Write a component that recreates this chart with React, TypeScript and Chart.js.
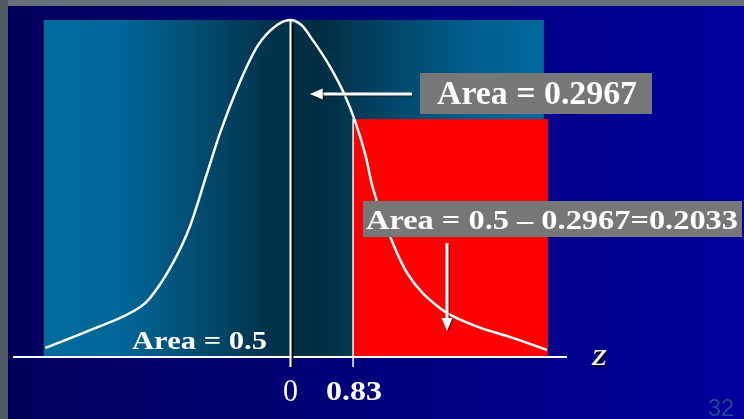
import React, { useEffect, useRef } from "react";
import { Chart, registerables } from "chart.js";

Chart.register(...registerables);

// Normal curve (z, relative height)
const curveZ = [-3.22, -2.63, -1.97, -1.84, -1.54, -1.32, -1.09, -0.92, -0.66, -0.42, -0.2, 0, 0.15, 0.3, 0.53, 0.72, 0.855, 0.99, 1.09, 1.32, 1.54, 1.97, 2.41, 2.93, 3.38];
const curveH = [0.024, 0.077, 0.146, 0.173, 0.277, 0.384, 0.545, 0.664, 0.815, 0.925, 0.98, 1.0, 0.985, 0.94, 0.86, 0.777, 0.7, 0.6, 0.5, 0.354, 0.247, 0.143, 0.092, 0.054, 0.018];

const zCut = 0.83;
const tickValues = [0, 0.83];
const tickLabels = ["0", "0.83"];
const panelRange = [-3.24, 3.34];
const panelTop = 1.0;
const tailRange = [0.83, 3.395];
const tailTop = 0.705;
const axisRange = [-3.645, 3.645];

const midAreaLabel = "Area = 0.2967";
const tailAreaLabel = "Area = 0.5 \u2013 0.2967=0.2033";
const halfAreaLabel = "Area = 0.5";
const axisLabel = "z";
const pageLabel = "32";

function fitText(
  ctx: CanvasRenderingContext2D,
  text: string,
  left: number,
  baseline: number,
  font: string,
  width: number,
  color: string
) {
  ctx.save();
  ctx.font = font;
  const w = ctx.measureText(text).width;
  ctx.translate(left, baseline);
  ctx.scale(width / w, 1);
  ctx.fillStyle = color;
  ctx.textAlign = "left";
  ctx.textBaseline = "alphabetic";
  ctx.fillText(text, 0, 0);
  ctx.restore();
}

function arrow(ctx: CanvasRenderingContext2D, x1: number, y1: number, x2: number, y2: number) {
  const ang = Math.atan2(y2 - y1, x2 - x1);
  const head = 13;
  const half = 5.5;
  ctx.save();
  ctx.shadowColor = "rgba(0,0,0,0.6)";
  ctx.shadowOffsetX = 1;
  ctx.shadowOffsetY = 1;
  ctx.strokeStyle = "#ffffff";
  ctx.fillStyle = "#ffffff";
  ctx.lineWidth = 3;
  const bx = x2 - Math.cos(ang) * head;
  const by = y2 - Math.sin(ang) * head;
  ctx.beginPath();
  ctx.moveTo(x1, y1);
  ctx.lineTo(bx, by);
  ctx.stroke();
  ctx.beginPath();
  ctx.moveTo(x2, y2);
  ctx.lineTo(bx - Math.sin(ang) * half, by + Math.cos(ang) * half);
  ctx.lineTo(bx + Math.sin(ang) * half, by - Math.cos(ang) * half);
  ctx.closePath();
  ctx.fill();
  ctx.restore();
}

const slidePlugin = {
  id: "slide",
  beforeDraw(chart: any) {
    const { ctx, width, height } = chart;
    const xs = chart.scales.x;
    const ys = chart.scales.y;
    ctx.save();
    const bg = ctx.createLinearGradient(0, 0, width, 0);
    bg.addColorStop(0, "#00005a");
    bg.addColorStop(1, "#00009c");
    ctx.fillStyle = bg;
    ctx.fillRect(0, 0, width, height);
    ctx.fillStyle = "#66717a";
    ctx.fillRect(0, 0, width, 6);
    ctx.fillStyle = "#4e5961";
    ctx.fillRect(0, 0, 8, height);

    const x0 = xs.getPixelForValue(panelRange[0]);
    const x1 = xs.getPixelForValue(panelRange[1]);
    const yT = ys.getPixelForValue(panelTop);
    const yB = ys.getPixelForValue(0);
    const tg = ctx.createLinearGradient(x0, 0, x1, 0);
    tg.addColorStop(0, "#006c9c");
    tg.addColorStop(0.15, "#006798");
    tg.addColorStop(0.3, "#004e72");
    tg.addColorStop(0.44, "#00344d");
    tg.addColorStop(0.55, "#002d40");
    tg.addColorStop(0.7, "#00476a");
    tg.addColorStop(0.85, "#005e8c");
    tg.addColorStop(1, "#006a9c");
    ctx.fillStyle = tg;
    ctx.fillRect(x0, yT, x1 - x0, yB - yT);

    const r0 = xs.getPixelForValue(tailRange[0]);
    const r1 = xs.getPixelForValue(tailRange[1]);
    const rT = ys.getPixelForValue(tailTop);
    ctx.fillStyle = "#ff0000";
    ctx.fillRect(r0, rT, r1 - r0, yB - rT);
    ctx.restore();
  },
  afterDatasetsDraw(chart: any) {
    const { ctx } = chart;
    const xs = chart.scales.x;
    const ys = chart.scales.y;
    const y0 = ys.getPixelForValue(0);
    const tickBottom = ys.getPixelForValue(-0.033);
    ctx.save();

    // axis
    ctx.strokeStyle = "#ffffff";
    ctx.lineWidth = 2;
    ctx.beginPath();
    ctx.moveTo(xs.getPixelForValue(axisRange[0]), y0 + 1);
    ctx.lineTo(xs.getPixelForValue(axisRange[1]), y0 + 1);
    ctx.stroke();

    // mean line
    const xm = Math.round(xs.getPixelForValue(tickValues[0]));
    ctx.strokeStyle = "#000000";
    ctx.lineWidth = 2;
    ctx.beginPath();
    ctx.moveTo(xm + 2.5, ys.getPixelForValue(panelTop) + 4);
    ctx.lineTo(xm + 2.5, tickBottom);
    ctx.stroke();
    ctx.strokeStyle = "#ffffff";
    ctx.beginPath();
    ctx.moveTo(xm + 0.5, ys.getPixelForValue(panelTop));
    ctx.lineTo(xm + 0.5, tickBottom);
    ctx.stroke();

    // cut line
    const xc = xs.getPixelForValue(zCut);
    ctx.lineWidth = 1.5;
    ctx.beginPath();
    ctx.moveTo(xc, ys.getPixelForValue(tailTop));
    ctx.lineTo(xc, tickBottom);
    ctx.stroke();

    // tick labels
    fitText(ctx, tickLabels[0], xm - 7, 401, "32px 'Liberation Serif'", 15, "#ffffff");
    fitText(ctx, tickLabels[1], 326, 400, "bold 27px 'Liberation Serif'", 56, "#ffffff");

    // axis label
    ctx.save();
    ctx.shadowColor = "rgba(0,0,0,0.8)";
    ctx.shadowOffsetX = 1.5;
    ctx.shadowOffsetY = 1.5;
    fitText(ctx, axisLabel, 592, 365, "italic 32px 'Liberation Serif'", 15, "#ffffff");
    ctx.restore();

    // half area label
    fitText(ctx, halfAreaLabel, 132, 349, "bold 26px 'Liberation Serif'", 135, "#ffffff");

    // mid area box + arrow
    ctx.fillStyle = "#777777";
    ctx.fillRect(420, 73, 232, 41);
    fitText(ctx, midAreaLabel, 437, 104, "bold 33px 'Liberation Serif'", 200, "#ffffff");
    arrow(ctx, 412, 94, xs.getPixelForValue(0.26), 94);

    // tail area box + arrow
    ctx.fillStyle = "#777777";
    ctx.fillRect(363, 201, 379, 36);
    fitText(ctx, tailAreaLabel, 366, 229, "bold 28px 'Liberation Serif'", 372, "#ffffff");
    arrow(ctx, 447, 243, 447, 331);

    // page number
    fitText(ctx, pageLabel, 708, 416, "24px 'Liberation Sans'", 26, "#1d4a8c");

    ctx.restore();
  },
};

export default function App() {
  const ref = useRef<HTMLCanvasElement | null>(null);
  useEffect(() => {
    if (!ref.current) return;
    const chart = new Chart(ref.current, {
      type: "line",
      data: {
        datasets: [
          {
            data: curveZ.map((z, i) => ({ x: z, y: curveH[i] })),
            borderColor: "#ffffff",
            borderWidth: 2.5,
            pointRadius: 0,
            fill: false,
            cubicInterpolationMode: "monotone",
          },
        ],
      },
      options: {
        animation: false,
        responsive: true,
        maintainAspectRatio: false,
        events: [],
        layout: { padding: { left: 1.2, right: 28.4, top: 0, bottom: 0 } },
        plugins: { legend: { display: false }, tooltip: { enabled: false } },
        scales: {
          x: { type: "linear", min: -3.8, max: 5.6, display: false },
          y: { type: "linear", min: -0.1875, max: 1.0595, display: false },
        },
      },
      plugins: [slidePlugin],
    });
    return () => chart.destroy();
  }, []);
  return (
    <div style={{ position: "fixed", left: 0, top: 0, width: 744, height: 419 }}>
      <canvas ref={ref} />
    </div>
  );
}
